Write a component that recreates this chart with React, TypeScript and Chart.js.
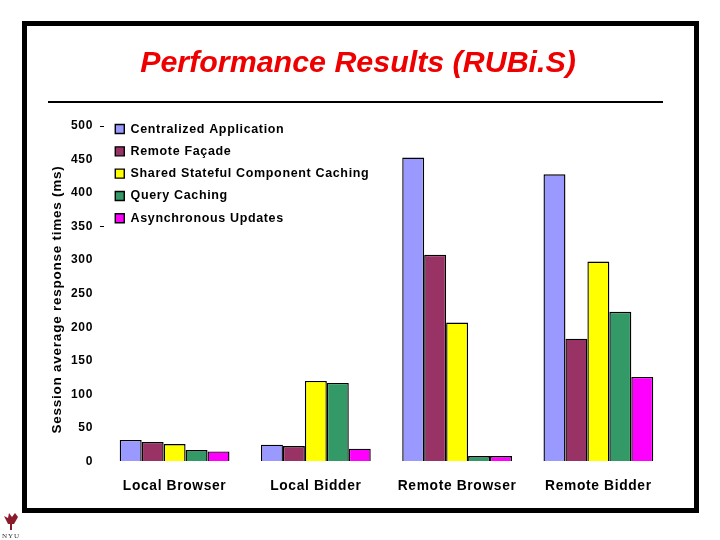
import { useEffect, useRef } from "react";
import { Chart, registerables } from "chart.js";

Chart.register(...registerables);

const chartTitle = "Performance Results (RUBi.S)";
const yAxisTitle = "Session average response times (ms)";
const categories = ["Local Browser", "Local Bidder", "Remote Browser", "Remote Bidder"];
const yTicks = [0, 50, 100, 150, 200, 250, 300, 350, 400, 450, 500];
const tickedValues = [350, 500];

const centralized = [32, 25, 453, 428];
const remoteFacade = [29, 23, 308, 183];
const sharedCaching = [26, 120, 207, 298];
const queryCaching = [17, 117, 8, 223];
const asyncUpdates = [15, 19, 8, 126];

const FONT = "'Liberation Sans', Arial, sans-serif";
const SPACING = "0.65px";

const slidePlugin = {
  id: "slide",
  beforeInit(chart: any) {
    chart.ctx.letterSpacing = SPACING;
  },
  beforeUpdate(chart: any) {
    chart.ctx.letterSpacing = SPACING;
  },
  afterLayout(chart: any) {
    // the legend sits inside the plot, next to the top of the axis
    chart.legend.top = chart.chartArea.top - 13;
    chart.legend.left = chart.chartArea.left + 1.5;
  },
  beforeDraw(chart: any) {
    const { ctx } = chart;
    ctx.letterSpacing = SPACING;
    ctx.save();
    ctx.fillStyle = "#000";
    ctx.fillRect(22, 21, 677, 5);
    ctx.fillRect(22, 508, 677, 5);
    ctx.fillRect(22, 21, 5, 492);
    ctx.fillRect(694, 21, 5, 492);
    ctx.fillRect(48, 101, 615, 2);
    ctx.restore();
  },
  afterDraw(chart: any) {
    const { ctx } = chart;
    ctx.save();
    ctx.letterSpacing = "0px";
    ctx.font = `italic bold 30.4px ${FONT}`;
    ctx.fillStyle = "#ee0000";
    ctx.textAlign = "center";
    ctx.textBaseline = "middle";
    ctx.fillText(chartTitle, 358, 64);
    ctx.restore();

    ctx.save();
    ctx.translate(57, 299.5);
    ctx.rotate(-Math.PI / 2);
    ctx.letterSpacing = "0.75px";
    ctx.font = `bold 13.5px ${FONT}`;
    ctx.fillStyle = "#000";
    ctx.textAlign = "center";
    ctx.textBaseline = "middle";
    ctx.fillText(yAxisTitle, 0, 0);
    ctx.restore();

    // torch logo
    ctx.save();
    ctx.fillStyle = "#8b1a2b";
    ctx.beginPath();
    ctx.moveTo(4, 516);
    ctx.lineTo(8, 518);
    ctx.lineTo(9, 513);
    ctx.lineTo(12, 517);
    ctx.lineTo(15, 513);
    ctx.lineTo(18, 517);
    ctx.lineTo(14, 524);
    ctx.lineTo(8, 524);
    ctx.closePath();
    ctx.fill();
    ctx.fillRect(10, 524, 2, 6);
    ctx.letterSpacing = "1px";
    ctx.font = "7px 'Liberation Serif', serif";
    ctx.fillStyle = "#333";
    ctx.textAlign = "center";
    ctx.fillText("NYU", 11, 538);
    ctx.restore();
  },
};

export default function App() {
  const canvasRef = useRef<HTMLCanvasElement>(null);

  useEffect(() => {
    if (!canvasRef.current) return;
    const border = { borderColor: "#000", borderWidth: 1.4 };
    const chart = new Chart(canvasRef.current, {
      type: "bar",
      data: {
        labels: categories,
        datasets: [
          { label: "Centralized Application", data: centralized, backgroundColor: "#9999ff", ...border },
          { label: "Remote Façade", data: remoteFacade, backgroundColor: "#993366", ...border },
          { label: "Shared Stateful Component Caching", data: sharedCaching, backgroundColor: "#ffff00", ...border },
          { label: "Query Caching", data: queryCaching, backgroundColor: "#339966", ...border },
          { label: "Asynchronous Updates", data: asyncUpdates, backgroundColor: "#ff00ff", ...border },
        ],
      },
      plugins: [slidePlugin],
      options: {
        animation: false,
        responsive: false,
        devicePixelRatio: 1,
        layout: { padding: { top: 126, left: 64, right: 51, bottom: 38 } },
        datasets: { bar: { categoryPercentage: 0.777, barPercentage: 1 } },
        scales: {
          x: {
            grid: { display: false },
            border: { display: false },
            ticks: {
              color: "#000",
              font: { family: FONT, weight: "bold", size: 13.8 },
              padding: 8,
              maxRotation: 0,
            },
          },
          y: {
            min: 0,
            max: 500,
            afterBuildTicks: (axis: any) => {
              axis.ticks = yTicks.map((value) => ({ value }));
            },
            grid: {
              drawOnChartArea: false,
              tickLength: 4,
              tickColor: (c: any) => (tickedValues.includes(c.tick?.value) ? "#000" : "transparent"),
            },
            border: { display: false },
            ticks: {
              color: "#000",
              font: { family: FONT, weight: "bold", size: 12 },
              padding: 7,
            },
          },
        },
        plugins: {
          tooltip: { enabled: false },
          title: { display: false },
          legend: {
            position: "chartArea",
            align: "start",
            labels: {
              color: "#000",
              boxWidth: 9,
              boxHeight: 9,
              padding: 9.8,
              font: { family: FONT, weight: "bold", size: 12.5 },
            },
          },
        },
      },
    } as any);

    return () => {
      chart.destroy();
    };
  }, []);

  return (
    <div style={{ position: "absolute", left: 0, top: 0, width: 720, height: 540, background: "#fff" }}>
      <canvas ref={canvasRef} width={720} height={540} style={{ display: "block" }} />
    </div>
  );
}
